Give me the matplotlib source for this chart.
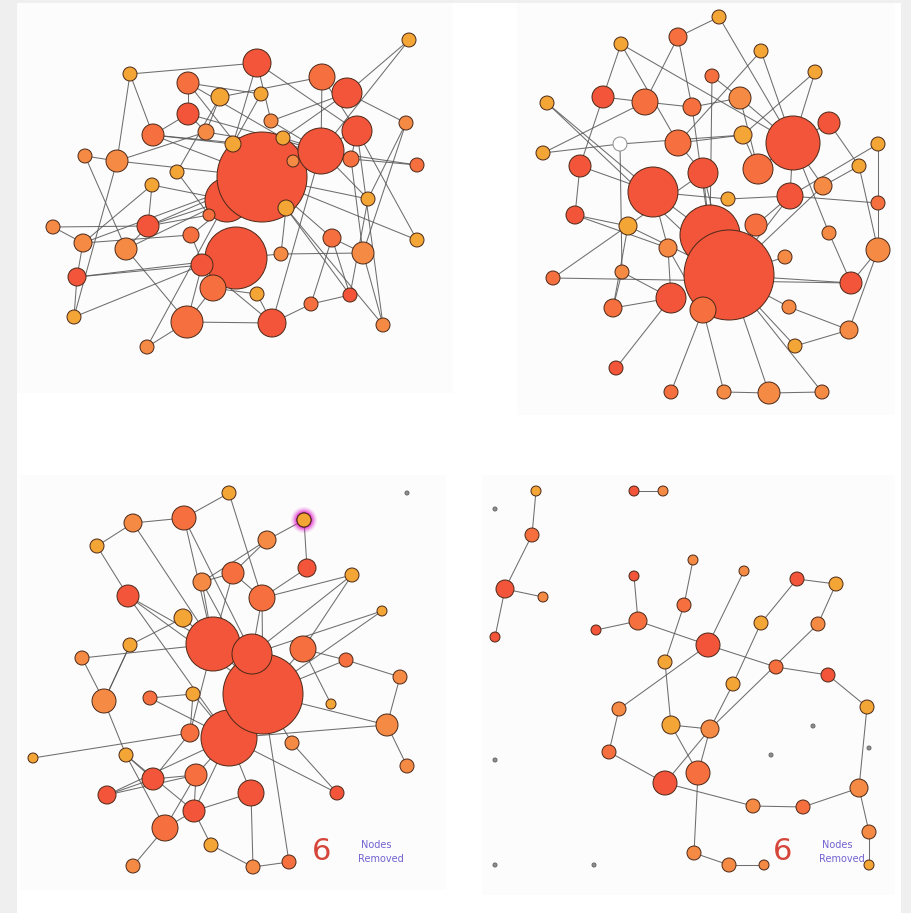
import matplotlib
matplotlib.use("Agg")
import matplotlib.pyplot as plt
from matplotlib.patches import Circle, Rectangle
import numpy as np

# ---- network snapshots (pixel layout, node size, heat level 0..3, -1 = isolated, -2 = empty) ----
# node numbers in edge lists start at 1

# before removal, layout A
tl_x = [409, 257, 130, 188, 322, 347, 220, 261, 188, 271, 406, 357, 153, 206, 233, 283, 321, 262, 227, 293,
        351, 417, 85, 117, 177, 152, 286, 368, 209, 53, 148, 83, 126, 191, 236, 202, 213, 332, 281, 363,
        417, 77, 257, 350, 311, 74, 187, 272, 383, 147]
tl_y = [40, 63, 74, 83, 77, 93, 97, 94, 114, 121, 123, 131, 135, 132, 144, 138, 151, 177, 200, 161,
        159, 165, 156, 161, 172, 185, 208, 199, 215, 227, 226, 243, 249, 235, 258, 265, 288, 238, 254, 253,
        240, 277, 294, 295, 304, 317, 322, 323, 325, 347]
tl_size = [7, 14, 7, 11, 13, 15, 9, 7, 11, 7, 7, 15, 11, 8, 8, 7, 23, 45, 22, 6,
           8, 7, 7, 11, 7, 7, 8, 7, 6, 7, 11, 9, 11, 8, 31, 11, 13, 9, 7, 11,
           7, 9, 7, 7, 7, 7, 16, 14, 7, 7]
tl_heat = [0, 3, 0, 2, 2, 3, 0, 0, 3, 1, 1, 3, 2, 1, 0, 0, 3, 3, 3, 1,
           2, 2, 1, 1, 0, 0, 0, 0, 2, 1, 3, 1, 1, 2, 3, 3, 2, 2, 1, 1,
           0, 3, 0, 3, 2, 0, 2, 3, 1, 1]
tl_edges = [(3, 2), (3, 24), (2, 12), (2, 10), (2, 15), (1, 6), (1, 17), (7, 5), (6, 11), (11, 40),
            (12, 41), (22, 21), (22, 17), (23, 24), (23, 33), (24, 18), (13, 15), (13, 18), (13, 9), (30, 32),
            (30, 31), (32, 42), (42, 46), (46, 36), (42, 35), (47, 50), (47, 48), (48, 45), (45, 44), (49, 40),
            (43, 37), (43, 48), (33, 47), (33, 31), (26, 32), (25, 7), (4, 9), (4, 18), (4, 8), (9, 14),
            (14, 17), (10, 17), (16, 6), (20, 12), (38, 18), (38, 44), (38, 45), (39, 35), (39, 27), (28, 18),
            (27, 49), (36, 35), (37, 35), (34, 18), (29, 18), (29, 31), (5, 17), (8, 15), (7, 14), (31, 19),
            (24, 14), (26, 19), (40, 21), (21, 12), (41, 18), (44, 28), (48, 17), (39, 40), (50, 19), (46, 24),
            (32, 34), (34, 37), (36, 48), (5, 12), (3, 13), (25, 29), (10, 6), (16, 4), (47, 36), (12, 49),
            (9, 17), (11, 28), (13, 17), (31, 18), (32, 18), (42, 36), (26, 31), (15, 18), (35, 47), (38, 40),
            (17, 28), (16, 21), (33, 19), (27, 44)]

# before removal, layout B
tr_x = [719, 678, 621, 761, 712, 815, 603, 645, 692, 740, 547, 829, 793, 743, 678, 620, 543, 878, 580, 703,
        758, 859, 653, 790, 823, 728, 878, 575, 628, 756, 710, 829, 668, 878, 785, 729, 553, 622, 851, 671,
        703, 613, 789, 849, 795, 616, 671, 724, 769, 822]
tr_y = [17, 37, 44, 51, 76, 72, 97, 102, 107, 98, 103, 123, 143, 135, 143, 144, 153, 144, 166, 173,
        169, 166, 192, 196, 186, 199, 203, 215, 226, 225, 235, 233, 248, 250, 257, 275, 278, 272, 283, 298,
        310, 308, 307, 330, 346, 368, 392, 392, 393, 392]
tr_size = [7, 9, 7, 7, 7, 7, 11, 13, 9, 11, 7, 11, 27, 9, 13, 7, 7, 7, 11, 15,
           15, 7, 25, 13, 9, 7, 7, 9, 9, 11, 30, 7, 9, 12, 7, 45, 7, 7, 11, 15,
           13, 9, 7, 9, 7, 7, 7, 7, 11, 7]
tr_heat = [0, 2, 0, 0, 2, 0, 3, 2, 2, 1, 0, 3, 3, 0, 2, -2, 0, 0, 3, 3,
           2, 0, 3, 3, 1, 0, 2, 3, 0, 2, 3, 1, 1, 1, 1, 3, 2, 1, 3, 3,
           2, 2, 1, 1, 0, 3, 2, 1, 1, 1]
tr_edges = [(1, 2), (1, 13), (2, 8), (2, 9), (3, 7), (3, 13), (4, 15), (4, 13), (5, 10), (5, 31),
            (6, 13), (6, 14), (7, 8), (7, 19), (8, 9), (9, 10), (9, 31), (10, 13), (10, 21), (11, 23),
            (12, 13), (12, 22), (13, 21), (13, 24), (13, 25), (13, 32), (14, 21), (14, 15), (16, 17), (16, 14),
            (16, 38), (17, 8), (18, 27), (18, 24), (19, 28), (19, 23), (20, 15), (20, 36), (20, 31), (22, 25),
            (22, 34), (23, 31), (23, 33), (23, 26), (24, 30), (24, 27), (24, 36), (26, 24), (27, 34), (28, 29),
            (28, 33), (29, 36), (29, 42), (31, 36), (32, 39), (33, 41), (33, 40), (34, 39), (34, 44), (35, 36),
            (37, 20), (37, 39), (38, 42), (38, 40), (40, 42), (40, 46), (41, 47), (41, 48), (43, 44), (45, 44),
            (45, 36), (49, 50), (49, 36), (48, 49), (50, 36), (11, 36), (3, 15), (36, 39), (36, 43), (30, 36),
            (25, 36)]

# after 6 removals, layout C
bl_x = [229, 407, 184, 133, 304, 97, 267, 233, 202, 307, 352, 128, 262, 183, 382, 213, 252, 130, 303, 82,
        346, 400, 263, 104, 150, 193, 331, 387, 190, 229, 292, 33, 126, 407, 153, 196, 107, 251, 337, 194,
        165, 211, 133, 253, 289]
bl_y = [493, 493, 518, 523, 520, 546, 540, 573, 582, 568, 575, 596, 598, 618, 611, 644, 654, 645, 649, 658,
        660, 677, 694, 701, 698, 694, 704, 725, 733, 738, 743, 758, 755, 766, 779, 775, 795, 793, 793, 811,
        828, 845, 866, 867, 862]
bl_size = [7, 2, 12, 9, 7, 7, 9, 11, 9, 9, 7, 11, 13, 9, 5, 27, 20, 7, 13, 7,
           7, 7, 40, 12, 7, 7, 5, 11, 9, 28, 7, 5, 7, 7, 11, 11, 9, 13, 7, 11,
           13, 7, 7, 7, 7]
bl_heat = [0, -1, 2, 1, 0, 0, 1, 2, 1, 3, 0, 3, 2, 0, 0, 3, 3, 0, 2, 1,
           2, 1, 3, 1, 2, 0, 0, 1, 2, 3, 1, 0, 0, 1, 3, 2, 3, 3, 3, 3,
           2, 0, 1, 1, 2]
bl_edges = [(1, 3), (1, 13), (3, 4), (3, 16), (3, 17), (4, 6), (4, 16), (5, 7), (5, 10), (6, 12),
            (7, 8), (7, 9), (8, 9), (8, 16), (10, 13), (11, 13), (11, 19), (11, 17), (12, 16), (12, 30),
            (13, 17), (13, 23), (14, 16), (14, 18), (15, 17), (16, 20), (16, 23), (16, 29), (18, 24), (19, 21),
            (19, 23), (19, 27), (21, 22), (21, 23), (22, 28), (28, 34), (28, 23), (24, 33), (24, 18), (25, 26),
            (25, 30), (26, 29), (29, 35), (30, 23), (30, 38), (30, 39), (30, 40), (30, 36), (31, 23), (31, 39),
            (32, 29), (33, 35), (33, 40), (33, 41), (35, 37), (35, 36), (36, 37), (36, 40), (38, 44), (38, 40),
            (40, 41), (40, 42), (41, 43), (41, 36), (42, 44), (44, 45), (45, 23), (8, 13), (9, 16), (28, 30),
            (20, 24), (12, 23), (15, 23), (9, 23), (26, 30), (37, 30)]
bl_marked = 5  # node flagged for removal next

# after 6 removals, layout D
br_x = [536, 634, 663, 495, 532, 505, 543, 495, 693, 634, 744, 797, 836, 684, 638, 596, 761, 818, 708, 665,
        776, 828, 733, 867, 619, 671, 710, 813, 495, 609, 771, 869, 698, 665, 859, 753, 803, 869, 694, 729,
        764, 869, 495, 594]
br_y = [491, 491, 491, 509, 535, 589, 597, 637, 560, 576, 571, 579, 584, 605, 621, 630, 623, 624, 645, 662,
        667, 675, 684, 707, 709, 725, 729, 726, 760, 752, 755, 748, 773, 783, 788, 806, 807, 832, 853, 865,
        865, 865, 865, 865]
br_size = [5, 5, 5, 2, 7, 9, 5, 5, 5, 5, 5, 7, 7, 7, 9, 5, 7, 7, 12, 7,
           7, 7, 7, 7, 7, 9, 9, 2, 2, 7, 2, 2, 12, 12, 9, 7, 7, 7, 7, 7,
           5, 5, 2, 2]
br_heat = [0, 3, 1, -1, 2, 3, 1, 3, 1, 3, 1, 3, 0, 2, 2, 3, 0, 1, 3, 0,
           2, 3, 0, 0, 1, 0, 1, -1, -1, 2, -1, -1, 2, 3, 1, 1, 2, 1, 1, 1,
           1, 0, -1, -1]
br_edges = [(1, 5), (5, 6), (6, 7), (6, 8), (2, 3), (10, 15), (16, 15), (15, 19), (9, 14), (14, 20),
            (20, 26), (11, 19), (19, 21), (21, 22), (19, 25), (22, 24), (24, 35), (35, 38), (38, 42), (35, 37),
            (37, 36), (36, 34), (34, 30), (30, 25), (12, 13), (12, 17), (17, 23), (23, 27), (13, 18), (18, 27),
            (26, 27), (26, 33), (27, 34), (27, 33), (33, 39), (39, 40), (40, 41)]

removed_count = 6

# colours
heat_colors = {0: "#f3a536", 1: "#f58a44", 2: "#f6703f", 3: "#f2553a", -1: "#8e8e8e", -2: "#ffffff"}
edge_color = "#555555"

fig = plt.figure(figsize=(9.12, 9.13), dpi=100, facecolor="#efefef")
ax = fig.add_axes([0, 0, 1, 1])
ax.set_xlim(0, 912)
ax.set_ylim(913, 0)
ax.set_aspect("auto")
ax.axis("off")

# page and panel backgrounds
ax.add_patch(Rectangle((17, 3), 884, 910, facecolor="#ffffff", edgecolor="none", zorder=0))
for (x0, y0, x1, y1) in [(17, 3, 453, 393), (517, 3, 895, 415), (20, 475, 446, 890), (482, 475, 895, 895)]:
    ax.add_patch(Rectangle((x0, y0), x1 - x0, y1 - y0, facecolor="#fcfcfc", edgecolor="none", zorder=0.5))


def draw_net(xs, ys, sizes, heat, edges, behind=()):
    xs = np.asarray(xs, float)
    ys = np.asarray(ys, float)
    for a, b in edges:
        ax.plot([xs[a - 1], xs[b - 1]], [ys[a - 1], ys[b - 1]], color=edge_color,
                lw=0.75, alpha=0.85, zorder=1, solid_capstyle="round")
    # big hubs first so the small nodes stay visible
    order = [i - 1 for i in behind] + [i for i in np.argsort(-np.asarray(sizes), kind="stable")
                                       if i + 1 not in behind]
    for z, i in enumerate(order):
        h = heat[i]
        ec = "#8a8a8a" if h == -2 else ("#6a6a6a" if h == -1 else "#4a2818")
        ax.add_patch(Circle((xs[i], ys[i]), sizes[i], facecolor=heat_colors[h], edgecolor=ec,
                            lw=0.7, zorder=2 + z * 0.01))


draw_net(tl_x, tl_y, tl_size, tl_heat, tl_edges, behind=(19,))
draw_net(tr_x, tr_y, tr_size, tr_heat, tr_edges, behind=(31,))
draw_net(bl_x, bl_y, bl_size, bl_heat, bl_edges, behind=(30,))
draw_net(br_x, br_y, br_size, br_heat, br_edges)

# glow on the flagged node
mx, my = bl_x[bl_marked - 1], bl_y[bl_marked - 1]
for rr, al in [(13, 0.12), (11.5, 0.2), (10, 0.35), (8.5, 0.6)]:
    ax.add_patch(Circle((mx, my), rr, facecolor="#e020c8", edgecolor="none", alpha=al, zorder=1.5))
ax.add_patch(Circle((mx, my), bl_size[bl_marked - 1], facecolor=heat_colors[0], edgecolor="#4a2818",
                    lw=0.7, zorder=3))

# counters
for cx, tx in [(322, 360), (783, 821)]:
    ax.text(cx, 852, str(removed_count), color="#d6453a", fontsize=22, ha="center", va="center", zorder=5)
    ax.text(tx + 1, 845, "Nodes", color="#7262d2", fontsize=7, ha="left", va="center", zorder=5)
    ax.text(tx - 2, 859, "Removed", color="#7262d2", fontsize=7, ha="left", va="center", zorder=5)

fig.savefig("out.png", dpi=100, facecolor=fig.get_facecolor())
